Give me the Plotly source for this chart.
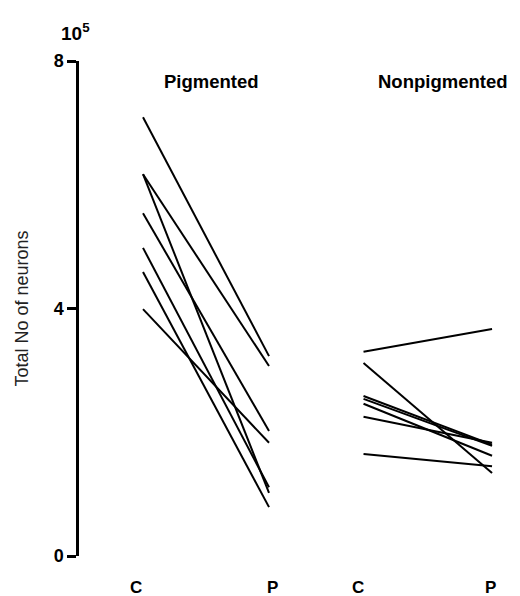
import plotly.graph_objects as go

# ---- data (values in units of 10^5 neurons) ----
pig_control = [7.09, 6.17, 6.17, 5.54, 4.98, 4.59, 3.99]
pig_patient = [3.23, 3.07, 1.02, 2.02, 1.11, 0.79, 1.83]
nonpig_control = [3.30, 3.12, 2.585, 2.54, 2.46, 2.25, 1.65]
nonpig_patient = [3.67, 1.34, 1.80, 1.78, 1.62, 1.83, 1.45]
group_titles = ["Pigmented", "Nonpigmented"]
x_tick_labels = ["C", "P", "C", "P"]
y_tick_values = [0, 4, 8]
y_title = "Total No of neurons"
y_unit = "10<sup>5</sup>"

# ---- layout constants ----
XPOS = [0.0, 1.0, 1.75, 2.77]
XLABEL_POS = [-0.056, 1.024, 1.706, 2.754]
FONT = "Liberation Sans, Arial, Helvetica, sans-serif"

fig = go.Figure()
for c, p in zip(pig_control, pig_patient):
    fig.add_trace(go.Scatter(x=[XPOS[0], XPOS[1]], y=[c, p], mode="lines",
                             line=dict(color="black", width=2), showlegend=False,
                             hoverinfo="skip"))
for c, p in zip(nonpig_control, nonpig_patient):
    fig.add_trace(go.Scatter(x=[XPOS[2], XPOS[3]], y=[c, p], mode="lines",
                             line=dict(color="black", width=2), showlegend=False,
                             hoverinfo="skip"))

annotations = []
for xp, lab in zip(XLABEL_POS, x_tick_labels):
    annotations.append(dict(x=xp, y=0, xref="x", yref="paper", text="<b>%s</b>" % lab,
                            showarrow=False, yshift=-31, yanchor="middle",
                            font=dict(family=FONT, size=17, color="black")))
title_x = [0.54, 2.38]
for xp, t in zip(title_x, group_titles):
    annotations.append(dict(x=xp, y=0.9576, xref="x", yref="paper", text="<b>%s</b>" % t,
                            showarrow=False, yanchor="middle",
                            font=dict(family=FONT, size=18.5, color="black")))
annotations.append(dict(x=0, y=1, xref="paper", yref="paper", text="<b>%s</b>" % y_unit,
                        showarrow=False, xshift=-4, yshift=29, xanchor="center",
                        yanchor="middle",
                        font=dict(family=FONT, size=19, color="black")))
annotations.append(dict(x=0, y=0.5, xref="paper", yref="paper", text=y_title,
                        textangle=-90, showarrow=False, xshift=-58, xanchor="center",
                        yanchor="middle",
                        font=dict(family=FONT, size=18, color="#222")))

fig.update_layout(
    width=512, height=588,
    margin=dict(l=71, r=2, t=53, b=40),
    paper_bgcolor="white", plot_bgcolor="white",
    xaxis=dict(range=[-0.508, 2.976], showline=False, showticklabels=False,
               showgrid=False, zeroline=False, ticks=""),
    yaxis=dict(range=[0, 8], tickvals=y_tick_values, ticktext=[str(v) for v in y_tick_values],
               showline=True, linewidth=2.5, linecolor="black",
               ticks="outside", ticklen=9, tickwidth=2.5, tickcolor="black",
               showgrid=False, zeroline=False,
               tickfont=dict(family=FONT, size=18, color="black", weight="bold")),
    annotations=annotations,
)

fig.write_html("out.html")
